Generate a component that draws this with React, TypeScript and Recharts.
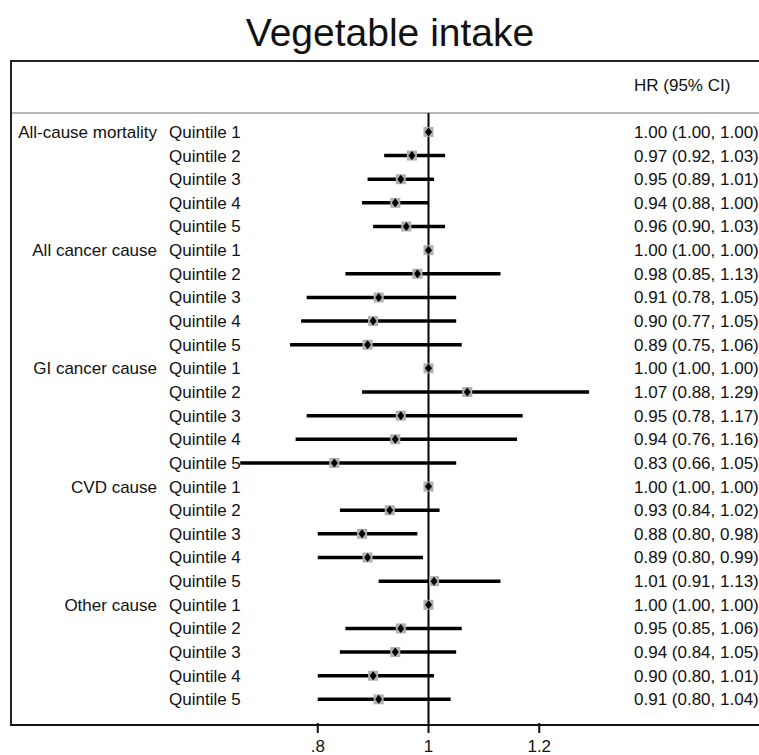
import { ComposedChart, Scatter, XAxis, YAxis, ReferenceLine } from "recharts";

const causes = ["All-cause mortality", "All cancer cause", "GI cancer cause", "CVD cause", "Other cause"];
const quintiles = ["Quintile 1", "Quintile 2", "Quintile 3", "Quintile 4", "Quintile 5"];

const hr = [
  1.0, 0.97, 0.95, 0.94, 0.96,
  1.0, 0.98, 0.91, 0.9, 0.89,
  1.0, 1.07, 0.95, 0.94, 0.83,
  1.0, 0.93, 0.88, 0.89, 1.01,
  1.0, 0.95, 0.94, 0.9, 0.91,
];
const lower = [
  1.0, 0.92, 0.89, 0.88, 0.9,
  1.0, 0.85, 0.78, 0.77, 0.75,
  1.0, 0.88, 0.78, 0.76, 0.66,
  1.0, 0.84, 0.8, 0.8, 0.91,
  1.0, 0.85, 0.84, 0.8, 0.8,
];
const upper = [
  1.0, 1.03, 1.01, 1.0, 1.03,
  1.0, 1.13, 1.05, 1.05, 1.06,
  1.0, 1.29, 1.17, 1.16, 1.05,
  1.0, 1.02, 0.98, 0.99, 1.13,
  1.0, 1.06, 1.05, 1.01, 1.04,
];
const xTicks = [0.8, 1, 1.2];

const rows = hr.map((v, i) => ({
  row: i,
  hr: v,
  lo: lower[i],
  hi: upper[i],
  cause: i % 5 === 0 ? causes[i / 5] : "",
  quintile: quintiles[i % 5],
}));

const font = "'Liberation Sans', Arial, sans-serif";

const Marker = (props: any) => {
  const { cx, cy } = props;
  return (
    <g>
      <rect x={cx - 5} y={cy - 5} width={10} height={10} fill="#b0b0b0" />
      <polygon
        points={`${cx},${cy - 4.5} ${cx + 3.5},${cy} ${cx},${cy + 4.5} ${cx - 3.5},${cy}`}
        fill="#000"
      />
    </g>
  );
};

const RowLabel = (props: any) => {
  const { y, payload } = props;
  const r = rows[payload.value];
  if (!r) return null;
  const text = `${r.hr.toFixed(2)} (${r.lo.toFixed(2)}, ${r.hi.toFixed(2)})`;
  return (
    <g fontFamily={font} fontSize={17} fill="#111">
      {r.cause && (
        <text x={157} y={y + 6} textAnchor="end">
          {r.cause}
        </text>
      )}
      <text x={169} y={y + 6}>
        {r.quintile}
      </text>
      <text x={634} y={y + 6}>
        {text}
      </text>
    </g>
  );
};

export default function App() {
  return (
    <div style={{ position: "absolute", left: 0, top: 0, width: 759, height: 755, background: "#fff", overflow: "hidden" }}>
      <div
        style={{
          position: "absolute",
          left: 0,
          top: 11,
          width: 780,
          textAlign: "center",
          fontFamily: font,
          fontSize: 39,
          color: "#111",
        }}
      >
        Vegetable intake
      </div>
      <div
        style={{
          position: "absolute",
          left: 10,
          top: 60,
          width: 800,
          height: 662,
          borderLeft: "2px solid #222",
          borderTop: "2px solid #222",
          borderBottom: "2px solid #111",
        }}
      />
      <div style={{ position: "absolute", left: 12, top: 112, width: 800, height: 2, background: "#b5b5b5" }} />
      <div
        style={{
          position: "absolute",
          left: 634,
          top: 76,
          fontFamily: font,
          fontSize: 17,
          color: "#111",
        }}
      >
        HR (95% CI)
      </div>
      <div style={{ position: "absolute", left: 0, top: 0 }}>
        <ComposedChart width={759} height={755} margin={{ top: 113, right: 109, bottom: 0, left: 0 }}>
          <XAxis
            type="number"
            dataKey="hr"
            domain={[0.6, 1.4]}
            ticks={xTicks}
            allowDataOverflow
            axisLine={false}
            tickLine={{ stroke: "#111", strokeWidth: 2 }}
            tickSize={10}
            tickMargin={7}
            height={32}
            tick={{ fill: "#111", fontSize: 17, fontFamily: font }}
            tickFormatter={(v: number) => (v === 1 ? "1" : String(v).replace(/^0/, ""))}
          />
          <YAxis
            yAxisId="left"
            type="number"
            dataKey="row"
            domain={[-0.8, 25]}
            reversed
            allowDataOverflow
            ticks={rows.map((r) => r.row)}
            interval={0}
            width={207}
            axisLine={false}
            tickLine={false}
            tick={<RowLabel />}
          />
          <ReferenceLine yAxisId="left" x={1} stroke="#000" strokeWidth={2} />
          {rows.map((r) => (
            <ReferenceLine
              key={r.row}
              yAxisId="left"
              segment={[
                { x: r.lo, y: r.row },
                { x: r.hi, y: r.row },
              ]}
              stroke="#000"
              strokeWidth={3.5}
            />
          ))}
          <Scatter yAxisId="left" data={rows} dataKey="row" shape={<Marker />} isAnimationActive={false} />
        </ComposedChart>
      </div>
    </div>
  );
}
